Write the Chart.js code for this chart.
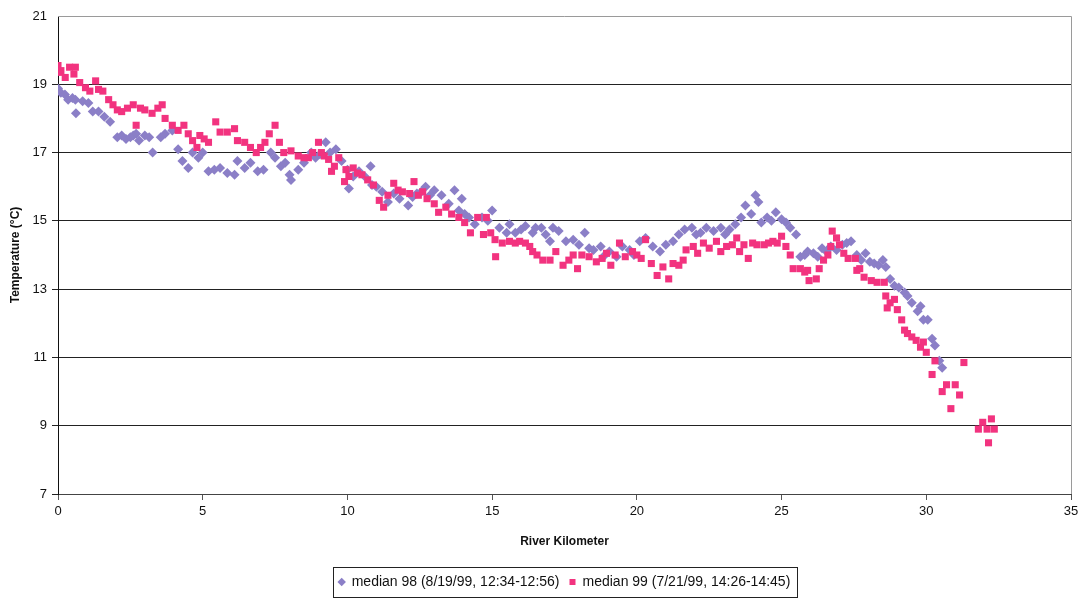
<!DOCTYPE html>
<html>
<head>
<meta charset="utf-8">
<title>River temperature profile</title>
<script src="https://cdn.jsdelivr.net/npm/chart.js@4/dist/chart.umd.min.js"></script>
<style>
    html, body { margin: 0; padding: 0; background: #fff; }
    #wrap { position: relative; width: 1079px; height: 601px; }
</style>
</head>
<body>
<div id="wrap"><canvas id="tempChart"></canvas></div>
<script>
// Data
const km98 = [0.0, 0.1, 0.24, 0.35, 0.5, 0.6, 0.62, 0.85, 1.05, 1.2, 1.4, 1.6, 1.8, 2.05, 2.2, 2.35, 2.5, 2.6, 2.7, 2.8,
    3.0, 3.15, 3.27, 3.55, 3.7, 3.95, 4.15, 4.3, 4.5, 4.65, 4.85, 5.0, 5.2, 5.4, 5.6, 5.85, 6.1, 6.2, 6.45, 6.65,
    6.9, 7.1, 7.35, 7.5, 7.7, 7.85, 8.0, 8.05, 8.3, 8.5, 8.75, 8.9, 9.05, 9.25, 9.4, 9.6, 9.8, 10.0, 10.05, 10.2,
    10.4, 10.6, 10.8, 10.85, 11.0, 11.2, 11.4, 11.6, 11.8, 12.1, 12.25, 12.4, 12.55, 12.7, 12.85, 13.0, 13.25, 13.5, 13.7, 13.85,
    13.95, 14.05, 14.2, 14.4, 14.65, 14.85, 15.0, 15.25, 15.5, 15.6, 15.8, 16.0, 16.15, 16.4, 16.5, 16.7, 16.85, 17.0, 17.1, 17.3,
    17.55, 17.8, 18.0, 18.2, 18.35, 18.5, 18.75, 18.9, 19.05, 19.3, 19.5, 19.75, 19.9, 20.1, 20.3, 20.55, 20.8, 21.0, 21.25, 21.45,
    21.65, 21.9, 22.05, 22.2, 22.4, 22.65, 22.9, 23.05, 23.2, 23.4, 23.6, 23.75, 23.95, 24.1, 24.2, 24.3, 24.5, 24.65, 24.8, 25.0,
    25.15, 25.3, 25.5, 25.65, 25.8, 25.9, 26.1, 26.25, 26.4, 26.55, 26.7, 26.9, 27.1, 27.25, 27.4, 27.6, 27.75, 27.9, 28.05, 28.2,
    28.35, 28.5, 28.6, 28.75, 28.9, 29.05, 29.25, 29.35, 29.5, 29.7, 29.8, 29.9, 30.05, 30.2, 30.3, 30.45, 30.55];
const temp98 = [18.88, 18.75, 18.7, 18.55, 18.6, 18.55, 18.15, 18.5, 18.45, 18.2, 18.2, 18.05, 17.9, 17.45, 17.5, 17.4, 17.45, 17.5, 17.55, 17.35,
    17.5, 17.45, 17.0, 17.45, 17.55, 17.65, 17.1, 16.75, 16.55, 17.0, 16.85, 17.0, 16.45, 16.5, 16.55, 16.4, 16.35, 16.75, 16.55, 16.7,
    16.45, 16.5, 17.0, 16.85, 16.6, 16.7, 16.35, 16.2, 16.5, 16.7, 17.0, 16.85, 16.95, 17.3, 17.0, 17.1, 16.75, 16.5, 15.95, 16.3,
    16.45, 16.3, 16.6, 16.05, 16.0, 15.85, 15.55, 15.8, 15.65, 15.45, 15.7, 15.8, 15.85, 16.0, 15.75, 15.9, 15.75, 15.5, 15.9, 15.3,
    15.65, 15.2, 15.1, 14.9, 15.1, 15.0, 15.3, 14.8, 14.65, 14.9, 14.65, 14.75, 14.85, 14.65, 14.8, 14.8, 14.6, 14.4, 14.8, 14.7,
    14.4, 14.45, 14.3, 14.65, 14.2, 14.15, 14.25, 14.0, 14.1, 13.95, 14.25, 14.15, 14.0, 14.4, 14.5, 14.25, 14.1, 14.3, 14.4, 14.6,
    14.75, 14.8, 14.6, 14.65, 14.8, 14.7, 14.8, 14.6, 14.75, 14.9, 15.1, 15.45, 15.2, 15.75, 15.55, 14.95, 15.1, 15.0, 15.25, 15.05,
    14.95, 14.8, 14.6, 13.95, 14.0, 14.1, 14.05, 13.95, 14.2, 14.1, 14.25, 14.15, 14.3, 14.35, 14.4, 14.0, 13.85, 14.05, 13.8, 13.75,
    13.7, 13.85, 13.65, 13.3, 13.1, 13.05, 12.9, 12.8, 12.6, 12.35, 12.5, 12.1, 12.1, 11.55, 11.35, 10.9, 10.7];

const km99 = [0.0, 0.05, 0.1, 0.25, 0.4, 0.55, 0.6, 0.75, 0.95, 1.1, 1.3, 1.4, 1.55, 1.75, 1.9, 2.05, 2.2, 2.4, 2.6, 2.7,
    2.85, 3.0, 3.25, 3.45, 3.6, 3.7, 3.95, 4.15, 4.35, 4.5, 4.65, 4.8, 4.9, 5.05, 5.2, 5.45, 5.6, 5.85, 6.1, 6.2,
    6.45, 6.65, 6.85, 7.0, 7.15, 7.3, 7.5, 7.65, 7.8, 8.05, 8.3, 8.5, 8.65, 8.8, 9.0, 9.1, 9.2, 9.35, 9.45, 9.55,
    9.7, 9.9, 9.95, 10.05, 10.2, 10.35, 10.5, 10.7, 10.9, 11.1, 11.25, 11.4, 11.6, 11.75, 11.9, 12.15, 12.3, 12.45, 12.6, 12.75,
    13.0, 13.15, 13.4, 13.6, 13.85, 14.05, 14.25, 14.5, 14.7, 14.8, 14.95, 15.1, 15.12, 15.35, 15.6, 15.8, 15.95, 16.15, 16.3, 16.4,
    16.55, 16.75, 17.0, 17.2, 17.45, 17.65, 17.8, 17.95, 18.1, 18.35, 18.6, 18.8, 18.95, 19.1, 19.25, 19.4, 19.6, 19.85, 20.0, 20.15,
    20.3, 20.5, 20.7, 20.9, 21.1, 21.25, 21.45, 21.6, 21.7, 21.95, 22.1, 22.3, 22.5, 22.75, 22.9, 23.1, 23.3, 23.45, 23.55, 23.7,
    23.85, 24.0, 24.15, 24.4, 24.55, 24.7, 24.85, 25.0, 25.15, 25.3, 25.4, 25.65, 25.8, 25.9, 25.95, 26.2, 26.3, 26.45, 26.6, 26.7,
    26.75, 26.9, 27.0, 27.15, 27.3, 27.55, 27.6, 27.7, 27.85, 28.1, 28.3, 28.55, 28.6, 28.65, 28.75, 28.9, 29.0, 29.15, 29.25, 29.35,
    29.5, 29.65, 29.8, 29.9, 30.0, 30.2, 30.3, 30.55, 30.7, 30.85, 31.0, 31.15, 31.3, 31.8, 31.95, 32.1, 32.15, 32.25, 32.35];
const temp99 = [19.55, 19.35, 19.4, 19.2, 19.5, 19.3, 19.5, 19.05, 18.9, 18.8, 19.1, 18.85, 18.8, 18.55, 18.4, 18.25, 18.2, 18.3, 18.4, 17.8,
    18.3, 18.25, 18.15, 18.3, 18.4, 18.0, 17.8, 17.65, 17.8, 17.55, 17.35, 17.15, 17.5, 17.4, 17.3, 17.9, 17.6, 17.6, 17.7, 17.35,
    17.3, 17.15, 17.0, 17.15, 17.3, 17.55, 17.8, 17.3, 17.0, 17.05, 16.9, 16.85, 16.85, 17.0, 17.3, 17.0, 16.9, 16.8, 16.45, 16.6,
    16.85, 16.15, 16.5, 16.3, 16.55, 16.4, 16.35, 16.2, 16.05, 15.6, 15.4, 15.75, 16.1, 15.9, 15.85, 15.8, 16.15, 15.75, 15.85, 15.65,
    15.5, 15.25, 15.4, 15.2, 15.1, 14.95, 14.65, 15.1, 14.6, 15.1, 14.65, 14.45, 13.95, 14.35, 14.4, 14.35, 14.4, 14.35, 14.25, 14.1,
    14.0, 13.85, 13.85, 14.1, 13.7, 13.85, 14.0, 13.6, 14.0, 13.95, 13.8, 13.9, 14.05, 13.7, 14.0, 14.35, 13.95, 14.1, 14.0, 13.9,
    14.45, 13.75, 13.4, 13.65, 13.3, 13.75, 13.7, 13.85, 14.15, 14.25, 14.05, 14.35, 14.2, 14.4, 14.1, 14.25, 14.3, 14.5, 14.1, 14.3,
    13.9, 14.35, 14.3, 14.3, 14.35, 14.4, 14.35, 14.55, 14.25, 14.0, 13.6, 13.6, 13.5, 13.55, 13.25, 13.3, 13.6, 13.85, 14.0, 14.25,
    14.7, 14.5, 14.3, 14.05, 13.9, 13.9, 13.55, 13.6, 13.35, 13.25, 13.2, 13.2, 12.8, 12.45, 12.6, 12.7, 12.4, 12.1, 11.8, 11.7,
    11.6, 11.5, 11.3, 11.45, 11.15, 10.5, 10.9, 10.0, 10.2, 9.5, 10.2, 9.9, 10.85, 8.9, 9.1, 8.9, 8.5, 9.2, 8.9];

const labels = ['median 98 (8/19/99, 12:34-12:56)', 'median 99 (7/21/99, 14:26-14:45)'];
const yTicks = [7, 9, 11, 13, 15, 17, 19, 21];

function toPoints(xs, ys) {
    return xs.map((x, i) => ({ x: x, y: ys[i] }));
}

// Frame round the plot + box round the legend
const framePlugin = {
    id: 'frame',
    beforeDatasetsDraw(chart) {
        const { ctx, chartArea: a } = chart;
        ctx.save();
        ctx.strokeStyle = '#9a9a9a';
        ctx.lineWidth = 1;
        ctx.beginPath();
        ctx.moveTo(a.left, a.top + 0.5);
        ctx.lineTo(a.right + 0.5, a.top + 0.5);
        ctx.lineTo(a.right + 0.5, a.bottom);
        ctx.stroke();
        ctx.restore();
    },
    afterDraw(chart) {
        const boxes = chart.legend.legendHitBoxes;
        if (!boxes || !boxes.length) return;
        const ctx = chart.ctx;
        const left = Math.min(...boxes.map(b => b.left)) - 6;
        const right = Math.max(...boxes.map(b => b.left + b.width)) + 6;
        const top = boxes[0].top - 8;
        const bottom = boxes[0].top + boxes[0].height + 8;
        ctx.save();
        ctx.strokeStyle = '#222';
        ctx.lineWidth = 1;
        ctx.strokeRect(Math.round(left) + 0.5, Math.round(top) + 0.5, Math.round(right - left), Math.round(bottom - top));
        ctx.restore();
    }
};

const ctx = document.getElementById('tempChart');
new Chart(ctx, {
    type: 'scatter',
    data: {
        datasets: [{
            label: labels[0],
            data: toPoints(km98, temp98),
            pointStyle: 'rectRot',
            pointRadius: 5,
            pointHoverRadius: 5,
            backgroundColor: '#8b7fc7',
            borderColor: '#8b7fc7',
            borderWidth: 0,
            order: 1
        }, {
            label: labels[1],
            data: toPoints(km99, temp99),
            pointStyle: 'rect',
            pointRadius: 5,
            pointHoverRadius: 5,
            backgroundColor: '#f2337f',
            borderColor: '#f2337f',
            borderWidth: 0,
            order: 0
        }]
    },
    options: {
        responsive: true,
        maintainAspectRatio: false,
        devicePixelRatio: 1,
        animation: false,
        layout: { padding: { left: 0, top: 16, right: 8, bottom: 2 } },
        plugins: {
            tooltip: { enabled: false },
            legend: {
                position: 'bottom',
                fullSize: false,
                labels: {
                    usePointStyle: true,
                    boxHeight: 6,
                    boxWidth: 6,
                    padding: 10,
                    color: '#111',
                    font: { family: "'Liberation Sans', Arial, sans-serif", size: 14 },
                    sort: (a, b) => a.datasetIndex - b.datasetIndex
                }
            }
        },
        scales: {
            x: {
                type: 'linear',
                min: 0,
                max: 35,
                afterFit: s => { s.height = 71; s.paddingRight = 8; },
                ticks: {
                    stepSize: 5,
                    padding: 4,
                    color: '#111',
                    font: { family: "'Liberation Sans', Arial, sans-serif", size: 13 }
                },
                grid: { drawOnChartArea: false, tickLength: 6, color: '#555' },
                border: { color: '#444' },
                title: {
                    display: true,
                    text: 'River Kilometer',
                    color: '#111',
                    padding: { top: 1, bottom: 16 },
                    font: { family: "'Liberation Sans', Arial, sans-serif", size: 12, weight: 'bold' }
                }
            },
            y: {
                min: 7,
                max: 21,
                afterFit: s => { s.width = 58; },
                afterBuildTicks: s => { s.ticks = yTicks.map(v => ({ value: v })); },
                ticks: {
                    padding: 5,
                    color: '#111',
                    font: { family: "'Liberation Sans', Arial, sans-serif", size: 13 }
                },
                grid: {
                    tickLength: 6,
                    color: c => (c.tick && c.tick.value === 21) ? 'rgba(0,0,0,0)' : '#222'
                },
                border: { color: '#111' },
                title: {
                    display: true,
                    text: 'Temperature (°C)',
                    color: '#111',
                    padding: { top: 8, bottom: 0 },
                    font: { family: "'Liberation Sans', Arial, sans-serif", size: 12, weight: 'bold' }
                }
            }
        }
    },
    plugins: [framePlugin]
});
</script>
</body>
</html>
